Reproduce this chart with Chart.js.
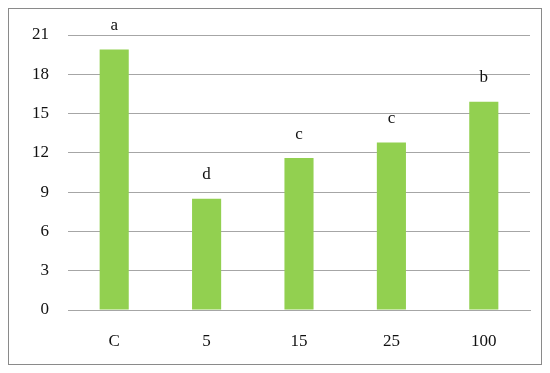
<!DOCTYPE html>
<html>
<head>
<meta charset="utf-8">
<script src="https://cdn.jsdelivr.net/npm/chart.js@4.4.1/dist/chart.umd.min.js"></script>
<style>
    html, body { margin: 0; padding: 0; background: #fff; }
    #box {
        position: absolute;
        left: 8px; top: 8px;
        width: 532px; height: 355px;
        border: 1px solid #8a8a8a;
    }
    canvas { display: block; }
</style>
</head>
<body>
<div id="box"><canvas id="chart" width="532" height="355"></canvas></div>
<script>
const categories = ["C", "5", "15", "25", "100"];
const values = [19.9, 8.5, 11.6, 12.8, 15.9];
const letters = ["a", "d", "c", "c", "b"];
const yTicks = [0, 3, 6, 9, 12, 15, 18, 21];

const serif = "'Palatino Linotype', 'Book Antiqua', 'Liberation Serif', 'DejaVu Serif', serif";

// letters above each bar
const letterPlugin = {
    id: "letters",
    afterDatasetsDraw(chart) {
        const ctx = chart.ctx;
        const meta = chart.getDatasetMeta(0);
        ctx.save();
        ctx.font = "17px " + serif;
        ctx.fillStyle = "#111";
        ctx.textAlign = "center";
        ctx.textBaseline = "middle";
        meta.data.forEach((bar, i) => {
            ctx.fillText(letters[i], bar.x, bar.y - 24);
        });
        ctx.restore();
    }
};

new Chart(document.getElementById("chart"), {
    type: "bar",
    data: {
        labels: categories,
        datasets: [{
            data: values,
            backgroundColor: "#92D050",
            borderWidth: 0,
            barPercentage: 0.315,
            categoryPercentage: 1.0
        }]
    },
    options: {
        responsive: false,
        animation: false,
        layout: { padding: { top: 26, right: 11, left: 0, bottom: 0 } },
        plugins: {
            legend: { display: false },
            tooltip: { enabled: false }
        },
        scales: {
            x: {
                grid: { display: false, drawTicks: false },
                border: { display: true, color: "#a6a6a6", width: 1 },
                ticks: { color: "#111", font: { family: serif, size: 17 }, padding: 21 },
                afterFit(scale) { scale.height = 54; }
            },
            y: {
                min: 0,
                max: 21,
                afterBuildTicks(scale) { scale.ticks = yTicks.map(v => ({ value: v })); },
                grid: { color: "#a6a6a6", lineWidth: 1, drawTicks: false },
                border: { display: false },
                ticks: { color: "#111", font: { family: serif, size: 17 }, padding: 19 },
                afterFit(scale) {
                    scale.width = 59;
                    scale.paddingTop = 0;
                    scale.paddingBottom = 0;
                }
            }
        }
    },
    plugins: [letterPlugin]
});
</script>
</body>
</html>
